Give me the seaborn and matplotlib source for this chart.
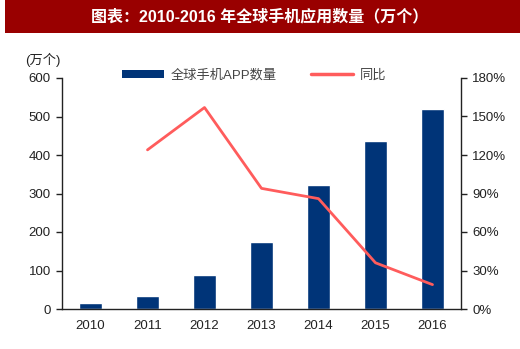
import numpy as np
import pandas as pd
import matplotlib
matplotlib.use("Agg")
import matplotlib.pyplot as plt
from matplotlib.patches import Rectangle, Patch
from matplotlib.lines import Line2D
import seaborn as sns

years = ["2010", "2011", "2012", "2013", "2014", "2015", "2016"]
apps = [15, 35, 89, 173, 322, 437, 520]
yoy = [np.nan, 124, 157, 94, 86, 36, 19]
left_ticks = [0, 100, 200, 300, 400, 500, 600]
right_ticks = [0, 30, 60, 90, 120, 150, 180]
title = "图表：2010-2016 年全球手机应用数量（万个）"
bar_label = "全球手机APP数量"
line_label = "同比"
unit_label = "(万个)"

sns.set_style("white")
plt.rcParams['font.family'] = ['Liberation Sans', 'Noto Sans CJK SC', 'DejaVu Sans']

BAR = "#003478"
LINE = "#FF5C5C"
FS = 9.5

fig = plt.figure(figsize=(5.2, 3.49), dpi=100)
fig.patches.append(Rectangle((5/520, 1-33/349), 1-5/520, 33/349, transform=fig.transFigure,
                             facecolor="#990000", edgecolor="none", zorder=0))
fig.text(260/520, 1-16.5/349, title, color="white", fontsize=11.5, fontweight="bold",
         ha="center", va="center", family=['Liberation Sans', 'Noto Sans CJK SC'])

ax = fig.add_axes([62/520, 1-309/349, (461-62)/520, (309-78)/349])
df = pd.DataFrame({"year": years, "apps": apps, "yoy": yoy})
sns.barplot(data=df, x="year", y="apps", color=BAR, width=0.4, ax=ax, saturation=1)
ax.set_xlim(-0.5, len(years) - 0.5)
ax.set_ylim(0, 600)
ax.set_yticks(left_ticks)
ax.set_xlabel("")
ax.set_ylabel("")

ax2 = ax.twinx()
sns.lineplot(x=np.arange(len(years)), y=df["yoy"], color=LINE, lw=2, ax=ax2)
ax2.set_ylim(0, 180)
ax2.set_yticks(right_ticks)
ax2.set_yticklabels([f"{t}%" for t in right_ticks])
ax2.set_ylabel("")
ax2.set_xlim(-0.5, len(years) - 0.5)

for a in (ax, ax2):
    a.spines["top"].set_visible(False)
    for s in ("left", "right", "bottom"):
        a.spines[s].set_color("#222222")
        a.spines[s].set_linewidth(1.0)
    a.tick_params(axis="y", direction="out", length=4, width=1, colors="#222222",
                  labelsize=FS, labelcolor="#222222", pad=4)
ax.spines["right"].set_visible(False)
ax2.spines["left"].set_visible(False)
ax2.spines["bottom"].set_visible(False)

ax.set_xticks(np.arange(len(years)))
ax.set_xticklabels(years)
ax.tick_params(axis="x", which="major", length=0, labelsize=FS, labelcolor="#222222", pad=8)
ax.set_xticks(np.arange(-0.5, len(years)), minor=True)
ax.tick_params(axis="x", which="minor", direction="out", length=4, width=1, colors="#222222")

fig.text(25/520, 1-60/349, unit_label, fontsize=FS, color="#222222", va="center", ha="left")

handles = [Patch(facecolor=BAR, edgecolor="none", label=bar_label),
           Line2D([], [], color=LINE, lw=2.5, label=line_label)]
leg = ax.legend(handles=handles, loc="upper left", bbox_to_anchor=(0.12, 1.09), ncol=2,
                frameon=False, fontsize=FS, handlelength=3.2, handleheight=0.5,
                columnspacing=2.6, handletextpad=0.5)
for t in leg.get_texts():
    t.set_color("#444444")

fig.savefig("out.png", dpi=100)
